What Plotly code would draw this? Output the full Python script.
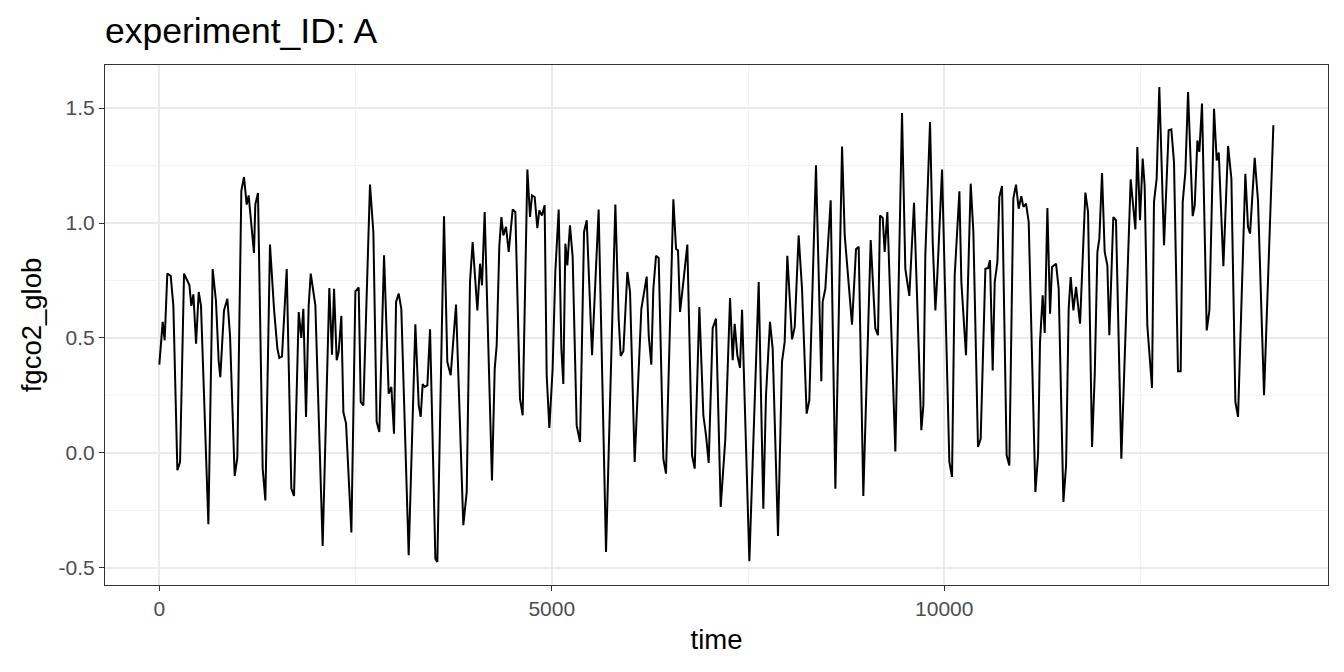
import plotly.graph_objects as go

time = [0, 43, 68, 102, 145, 179, 230, 264, 315, 383, 408, 434, 468, 502, 531, 625, 680, 722, 756, 777,
        824, 867, 901, 960, 994, 1045, 1079, 1113, 1138, 1172, 1206, 1223, 1257, 1317, 1351, 1410, 1461,
        1504, 1529, 1563, 1623, 1682, 1716, 1776, 1809, 1835, 1869, 1903, 1929, 1988, 2081, 2166, 2200,
        2226, 2260, 2285, 2319, 2345, 2379, 2447, 2498, 2540, 2566, 2600, 2642, 2684, 2727, 2769, 2803,
        2863, 2922, 2956, 2990, 3016, 3050, 3083, 3177, 3262, 3305, 3330, 3355, 3381, 3415, 3449, 3517,
        3542, 3627, 3669, 3712, 3780, 3873, 3916, 3958, 3992, 4052, 4086, 4111, 4145, 4238, 4273, 4298,
        4332, 4358, 4383, 4417, 4451, 4502, 4536, 4595, 4629, 4689, 4723, 4748, 4782, 4816, 4841, 4875,
        4909, 4935, 4969, 5011, 5045, 5088, 5122, 5147, 5173, 5198, 5232, 5266, 5317, 5360, 5411, 5445,
        5513, 5597, 5691, 5810, 5852, 5878, 5912, 5963, 5997, 6056, 6141, 6209, 6235, 6268, 6294, 6328,
        6362, 6421, 6455, 6549, 6583, 6608, 6634, 6676, 6727, 6787, 6821, 6880, 6931, 6965, 6999, 7050,
        7092, 7152, 7211, 7271, 7305, 7330, 7364, 7398, 7424, 7517, 7636, 7695, 7729, 7780, 7814, 7882,
        7933, 7967, 8001, 8061, 8095, 8145, 8188, 8247, 8281, 8366, 8434, 8451, 8485, 8553, 8613, 8698,
        8732, 8825, 8876, 8910, 8969, 9063, 9122, 9156, 9182, 9216, 9241, 9275, 9377, 9462, 9504, 9555,
        9615, 9708, 9734, 9759, 9819, 9853, 9887, 9912, 9972, 10065, 10099, 10133, 10193, 10218, 10277,
        10337, 10371, 10430, 10464, 10524, 10558, 10583, 10617, 10643, 10677, 10702, 10736, 10795, 10829,
        10880, 10914, 10948, 10982, 11008, 11042, 11076, 11161, 11195, 11220, 11254, 11280, 11314, 11348,
        11373, 11424, 11458, 11518, 11552, 11585, 11611, 11645, 11679, 11730, 11798, 11832, 11883, 11917,
        11951, 11976, 12010, 12044, 12078, 12103, 12154, 12188, 12256, 12375, 12435, 12460, 12494, 12528,
        12553, 12587, 12647, 12672, 12706, 12740, 12800, 12859, 12893, 12927, 12978, 13012, 13038, 13072,
        13106, 13165, 13191, 13225, 13250, 13284, 13344, 13378, 13437, 13471, 13497, 13556, 13616, 13658,
        13709, 13743, 13836, 13870, 13896, 13955, 13997, 14074, 14193]

fgco2_glob = [0.384, 0.57, 0.49, 0.78, 0.77, 0.64, -0.075, -0.04, 0.78, 0.73, 0.64, 0.69, 0.475, 0.70, 0.64,
              -0.31, 0.80, 0.66, 0.40, 0.33, 0.62, 0.67, 0.51, -0.10, -0.02, 1.14, 1.20, 1.08, 1.12, 0.975,
              0.87, 1.08, 1.13, -0.068, -0.206, 0.906, 0.627, 0.454, 0.413, 0.42, 0.80, -0.155, -0.187, 0.613,
              0.50, 0.627, 0.157, 0.642, 0.78, 0.642, -0.404, 0.717, 0.427, 0.714, 0.403, 0.44, 0.596, 0.178,
              0.128, -0.346, 0.703, 0.72, 0.222, 0.207, 0.70, 1.167, 0.96, 0.135, 0.091, 0.86, 0.258, 0.287,
              0.084, 0.657, 0.693, 0.627, -0.445, 0.56, 0.207, 0.157, 0.30, 0.287, 0.294, 0.538, -0.46,
              -0.474, 1.029, 0.396, 0.338, 0.645, -0.314, -0.17, 0.743, 0.917, 0.62, 0.823, 0.729, 1.048,
              -0.119, 0.367, 0.468, 0.903, 1.026, 0.946, 0.983, 0.874, 1.059, 1.048, 0.236, 0.164, 1.233,
              1.026, 1.12, 1.113, 0.978, 1.055, 1.033, 1.077, 0.338, 0.109, 0.367, 0.787, 1.059, 0.454, 0.30,
              0.91, 0.816, 0.99, 0.852, 0.12, 0.048, 0.961, 1.012, 0.425, 1.059, -0.43, 1.08, 0.584, 0.422,
              0.442, 0.787, 0.70, -0.039, 0.627, 0.767, 0.51, 0.384, 0.714, 0.857, 0.848, -0.025, -0.09,
              1.103, 0.888, 0.881, 0.613, 0.743, 0.906, -0.01, -0.068, 0.635, 0.164, 0.077, -0.043, 0.543,
              0.584, -0.235, 0.062, 0.674, 0.403, 0.562, 0.425, 0.37, 0.623, -0.471, 0.743, -0.242, 0.251,
              0.57, 0.454, -0.361, 0.396, 0.483, 0.857, 0.494, 0.548, 0.946, 0.714, 0.171, 0.229, 1.251,
              0.312, 0.657, 0.714, 1.099, -0.155, 1.333, 0.946, 0.558, 0.886, 0.897, -0.187, 0.926, 0.541,
              0.512, 1.033, 1.022, 0.874, 1.048, 0.007, 1.478, 0.801, 0.683, 1.088, 0.099, 0.207, 0.86,
              1.439, 0.917, 0.62, 0.772, 1.232, -0.039, -0.104, 0.772, 1.138, 0.743, 0.425, 1.171, 0.961,
              0.026, 0.062, 0.801, 0.804, 0.838, 0.359, 0.743, 0.83, 1.113, 1.161, -0.01, -0.054, 1.106,
              1.167, 1.062, 1.117, 1.07, 1.084, 1.004, -0.17, -0.01, 0.483, 0.686, 0.522, 1.065, 0.606,
              0.809, 0.823, 0.714, -0.213, -0.054, 0.627, 0.765, 0.62, 0.722, 0.562, 1.132, 1.048, 0.026,
              0.338, 0.874, 0.932, 1.217, 0.874, 0.816, 0.512, 1.026, 1.012, -0.025, 1.19, 0.972, 1.33,
              1.012, 1.28, 1.164, 0.555, 0.283, 1.091, 1.193, 1.591, 0.903, 1.403, 1.407, 1.265, 0.355,
              0.355, 1.091, 1.222, 1.57, 1.03, 1.077, 1.359, 1.309, 1.519, 0.533, 0.62, 1.497, 1.272, 1.306,
              0.812, 1.335, 1.193, 0.222, 0.157, 1.214, 0.983, 0.954, 1.283, 1.099, 0.251, 1.425]

x_ticks = [0, 5000, 10000]
x_tick_labels = ["0", "5000", "10000"]
y_ticks = [-0.5, 0.0, 0.5, 1.0, 1.5]
y_tick_labels = ["-0.5", "0.0", "0.5", "1.0", "1.5"]

FONT = "Liberation Sans, Arial, sans-serif"
W, H = 1336, 664  # page has an 8px body margin

fig = go.Figure()
fig.add_trace(go.Scatter(x=time, y=fgco2_glob, mode="lines",
                         line=dict(color="black", width=2), showlegend=False))

fig.update_layout(
    width=W, height=H,
    margin=dict(l=97, r=16, t=57, b=87),
    paper_bgcolor="white", plot_bgcolor="white",
    font=dict(family=FONT, color="black"),
    title=dict(text="experiment_ID: A", font=dict(size=35.5, color="black", family=FONT),
               x=97 / W, xref="container", xanchor="left",
               y=1 - 23 / H, yref="container", yanchor="middle"),
)

axis_common = dict(
    showline=True, linecolor="#333333", linewidth=1.2, mirror=True,
    ticks="outside", ticklen=5, tickcolor="#333333", tickwidth=1.2,
    gridcolor="#EBEBEB", gridwidth=1.5, zeroline=False,
    tickfont=dict(size=21, color="#4D4D4D", family=FONT),
)

fig.update_xaxes(
    **axis_common,
    range=[-692, 14889],
    tickvals=x_ticks, ticktext=x_tick_labels,
    minor=dict(tickvals=[2500, 7500, 12500], showgrid=True, gridcolor="#F3F3F3", gridwidth=1, ticks=""),
    title=dict(text="time", font=dict(size=27.5, color="black", family=FONT), standoff=10),
)
fig.update_yaxes(
    **axis_common,
    range=[-0.574, 1.687],
    tickvals=y_ticks, ticktext=y_tick_labels,
    minor=dict(tickvals=[-0.25, 0.25, 0.75, 1.25], showgrid=True, gridcolor="#F3F3F3", gridwidth=1, ticks=""),
    title=dict(text="fgco2_glob", font=dict(size=27.5, color="black", family=FONT), standoff=8),
)

fig.write_html("out.html")
